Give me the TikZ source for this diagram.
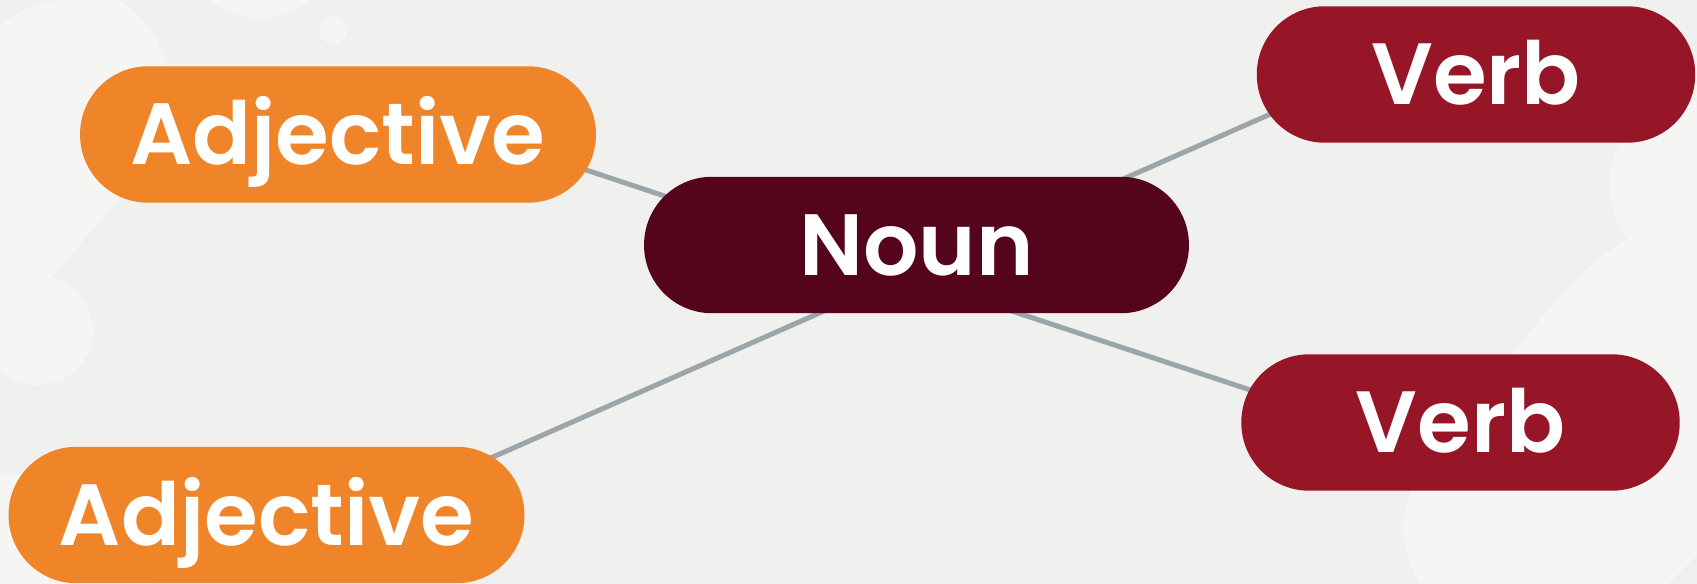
\documentclass[tikz,border=0pt]{standalone}
\usepackage{fontspec}
\setmainfont{Poppins}
\newfontfamily\poppinsdemi{Poppins SemiBold}
\usetikzlibrary{calc,backgrounds}
\definecolor{fond}{HTML}{F0F0EE}
\definecolor{tache}{HTML}{F5F5F4}
\definecolor{orangeadj}{HTML}{EF8429}
\definecolor{bordeaux}{HTML}{55051B}
\definecolor{rougeverbe}{HTML}{961628}
\definecolor{gris}{HTML}{9AA6AA}
\tikzstyle{bulle} = [rounded corners=1.36cm,minimum height=2.73cm,inner sep=0pt,text=white,font=\poppinsdemi\fontsize{49.5}{59}\selectfont,text height=1.22cm,text depth=0pt]
\tikzstyle{adjectif} = [bulle,fill=orangeadj,minimum width=10.32cm]
\tikzstyle{nom} = [bulle,fill=bordeaux,minimum width=10.9cm]
\tikzstyle{verbe} = [bulle,fill=rougeverbe,minimum width=8.77cm]
\tikzstyle{lien} = [gris,line width=0.1cm]

\begin{document}
\begin{tikzpicture}[x=0.02cm,y=-0.02cm]
	\useasboundingbox (0,0) rectangle (1697,584);

	\node[adjectif] (A1) at (338,134.5) {Adjective};
	\node[adjectif] (A2) at (266.5,515) {Adjective};

	\node[nom] (N) at (916.5,245) {Noun};

	\node[verbe] (V1) at (1476,74.5) {Verb};
	\node[verbe] (V2) at (1460.5,422.5) {Verb};

\begin{pgfonlayer}{background}
	\fill[fond] (0,0) rectangle (1697,584);
	\begin{scope}
	\clip (0,0) rectangle (1697,584);
	% taches claires du fond
	\fill[tache] (0,25) .. controls (25,5) and (60,-5) .. (110,-5) .. controls (150,15) and (172,55) .. (170,105) .. controls (168,135) and (160,150) .. (148,165) -- (48,282) .. controls (35,300) and (18,318) .. (0,325) -- cycle;
	\fill[tache] (38,330) circle (1.1cm);
	\fill[tache] (260,-62) circle (1.6cm);
	\fill[tache] (333,30) circle (0.28cm);
	\fill[tache] (0,474) -- (150,474) -- (150,584) -- (0,584) -- cycle;
	\fill[tache] (1705,185) circle (1.9cm);
	\fill[tache] (1420,584) .. controls (1395,540) and (1398,500) .. (1430,455) -- (1520,345) .. controls (1570,280) and (1620,225) .. (1697,215) -- (1697,555) -- (1668,584) -- cycle;
	\end{scope}

	\draw[lien] ($(A1)+(162,7)$) -- ($(V2)+(-110.5,0.5)$);
	\draw[lien] ($(A2)+(133.5,-17)$) -- ($(V1)+(-126,4.5)$);
\end{pgfonlayer}

\end{tikzpicture}
\end{document}
